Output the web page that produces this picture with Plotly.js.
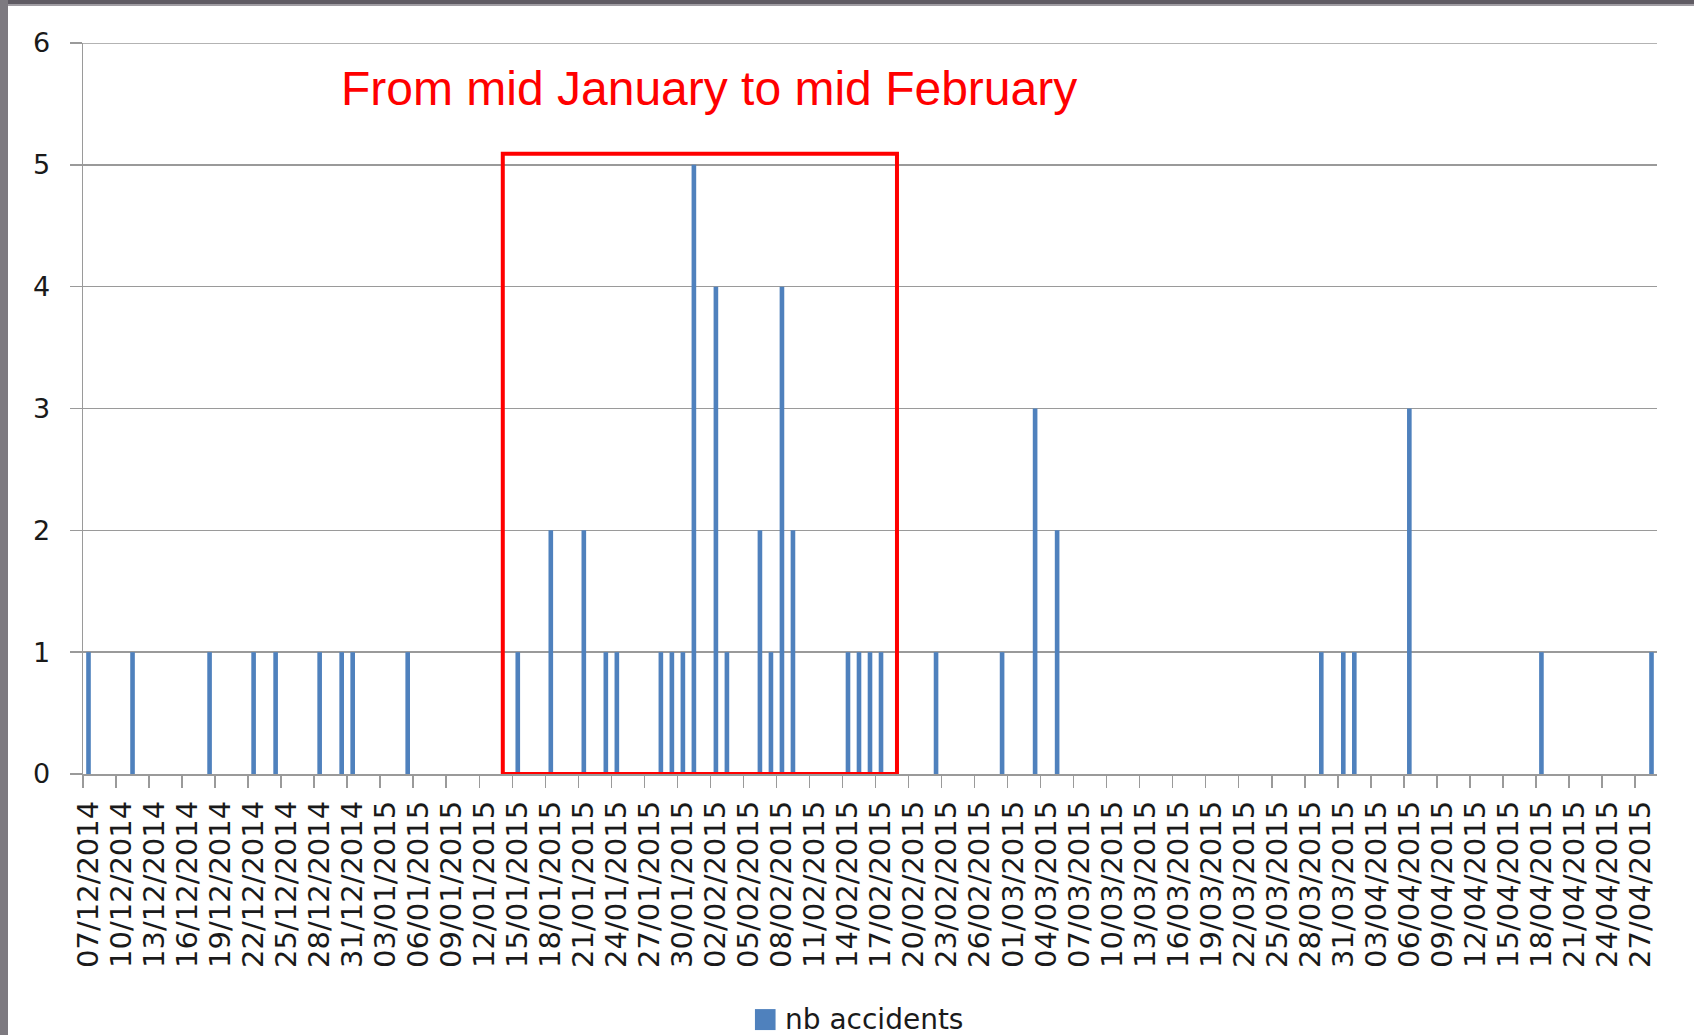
<!DOCTYPE html>
<html>
<head>
<meta charset="utf-8">
<script src="https://cdn.plot.ly/plotly-3.0.1.min.js"></script>
<style>
  html, body { margin: 0; padding: 0; background: #ffffff; }
  #wrap { position: relative; width: 1694px; height: 1035px; overflow: hidden; }
  #chart { position: absolute; left: 0; top: 0; width: 1694px; height: 1035px; }
  #bTop1 { position: absolute; left: 0; top: 0; width: 1694px; height: 4px; background: #5f5b63; }
  #bTop2 { position: absolute; left: 0; top: 4px; width: 1694px; height: 2px; background: #a09da3; }
  #bLeft { position: absolute; left: 0; top: 0; width: 8px; height: 1035px; background: #7d7a80; }
</style>
</head>
<body>
<div id="wrap">
  <div id="chart"></div>
  <div id="bTop1"></div>
  <div id="bTop2"></div>
  <div id="bLeft"></div>
</div>
<script>
// ---- data ----
const accidentDates = [
  '2014-12-07','2014-12-11','2014-12-18','2014-12-22','2014-12-24','2014-12-28','2014-12-30','2014-12-31',
  '2015-01-05','2015-01-15','2015-01-18','2015-01-21','2015-01-23','2015-01-24','2015-01-28','2015-01-29',
  '2015-01-30','2015-01-31','2015-02-02','2015-02-03','2015-02-06','2015-02-07','2015-02-08','2015-02-09',
  '2015-02-14','2015-02-15','2015-02-16','2015-02-17','2015-02-22','2015-02-28','2015-03-03','2015-03-05',
  '2015-03-29','2015-03-31','2015-04-01','2015-04-06','2015-04-18','2015-04-28'
];
const accidentCounts = [
  1,1,1,1,1,1,1,1,
  1,1,2,2,1,1,1,1,
  1,5,4,1,2,1,4,2,
  1,1,1,1,1,1,3,2,
  1,1,1,3,1,1
];
const seriesName = 'nb accidents';
const highlightText = 'From mid January to mid February';
const firstDay = '2014-12-07';
const lastDay = '2015-04-28';
const yMax = 6;

// ---- layout helpers ----
const DAY = 86400000;
const xRange = ['2014-12-06 12:00', '2015-04-28 12:00'];
const axisGray = '#9a9a9a';
const barBlue = '#4F81BD';

const bars = {
  type: 'bar',
  x: accidentDates,
  y: accidentCounts,
  name: seriesName,
  width: 0.42 * DAY,
  marker: { color: barBlue, line: { width: 0 } },
  showlegend: false,
  hoverinfo: 'x+y'
};
const labelCarrier = {
  type: 'bar',
  x: accidentDates,
  y: accidentCounts,
  xaxis: 'x2',
  width: 0.42 * DAY,
  marker: { color: 'rgba(0,0,0,0)' },
  showlegend: false,
  hoverinfo: 'skip'
};

const layout = {
  width: 1694,
  height: 1035,
  margin: { l: 83, r: 37, t: 43, b: 261 },
  paper_bgcolor: '#ffffff',
  plot_bgcolor: '#ffffff',
  font: { family: 'DejaVu Sans', size: 28, color: '#1a1a1a' },
  bargap: 0.6,
  xaxis: {
    type: 'date',
    range: xRange,
    tick0: '2014-12-06 12:00',
    dtick: 3 * DAY,
    ticks: 'outside',
    ticklen: 12,
    tickwidth: 1.5,
    tickcolor: axisGray,
    showticklabels: false,
    showgrid: false,
    zeroline: false,
    showline: true,
    linecolor: axisGray,
    linewidth: 1.5
  },
  xaxis2: {
    type: 'date',
    overlaying: 'x',
    anchor: 'y',
    side: 'bottom',
    range: xRange,
    tick0: firstDay,
    dtick: 3 * DAY,
    tickformat: '%d/%m/%Y',
    tickangle: -90,
    ticks: '',
    ticklabelstandoff: 20,
    tickfont: { family: 'DejaVu Sans', size: 29, color: '#1a1a1a' },
    showgrid: false,
    zeroline: false,
    showline: false
  },
  yaxis: {
    range: [0, yMax],
    dtick: 1,
    tick0: 0,
    ticks: 'outside',
    ticklen: 12,
    tickwidth: 1.5,
    tickcolor: axisGray,
    showgrid: true,
    gridcolor: axisGray,
    gridwidth: 1.5,
    zeroline: false,
    showline: true,
    linecolor: axisGray,
    linewidth: 1.5,
    ticklabelstandoff: 14,
    tickfont: { family: 'DejaVu Sans', size: 27, color: '#1a1a1a' }
  },
  shapes: [
    {
      type: 'line', xref: 'paper', yref: 'y',
      x0: 0, x1: 1, y0: yMax, y1: yMax,
      line: { color: axisGray, width: 1.5 }
    },
    {
      type: 'rect', xref: 'x', yref: 'y',
      x0: '2015-01-13 15:20', x1: '2015-02-18 10:50',
      y0: 0, y1: 5.09,
      line: { color: '#ff0000', width: 4 },
      fillcolor: 'rgba(0,0,0,0)'
    },
    {
      type: 'rect', xref: 'paper', yref: 'paper',
      x0: 0.4269, x1: 0.4400, y0: -0.3503, y1: -0.3216,
      line: { width: 0 }, fillcolor: barBlue
    }
  ],
  annotations: [
    {
      text: highlightText,
      xref: 'paper', yref: 'paper',
      x: 0.3977, y: 0.938,
      xanchor: 'center', yanchor: 'middle',
      showarrow: false,
      font: { family: 'Liberation Sans', size: 48, color: '#ff0000' }
    },
    {
      text: seriesName,
      xref: 'paper', yref: 'paper',
      x: 0.4447, y: -0.3353,
      xanchor: 'left', yanchor: 'middle',
      showarrow: false,
      font: { family: 'DejaVu Sans', size: 28, color: '#1a1a1a' }
    }
  ]
};

Plotly.newPlot('chart', [bars, labelCarrier], layout, { displayModeBar: false, staticPlot: true });
</script>
</body>
</html>
